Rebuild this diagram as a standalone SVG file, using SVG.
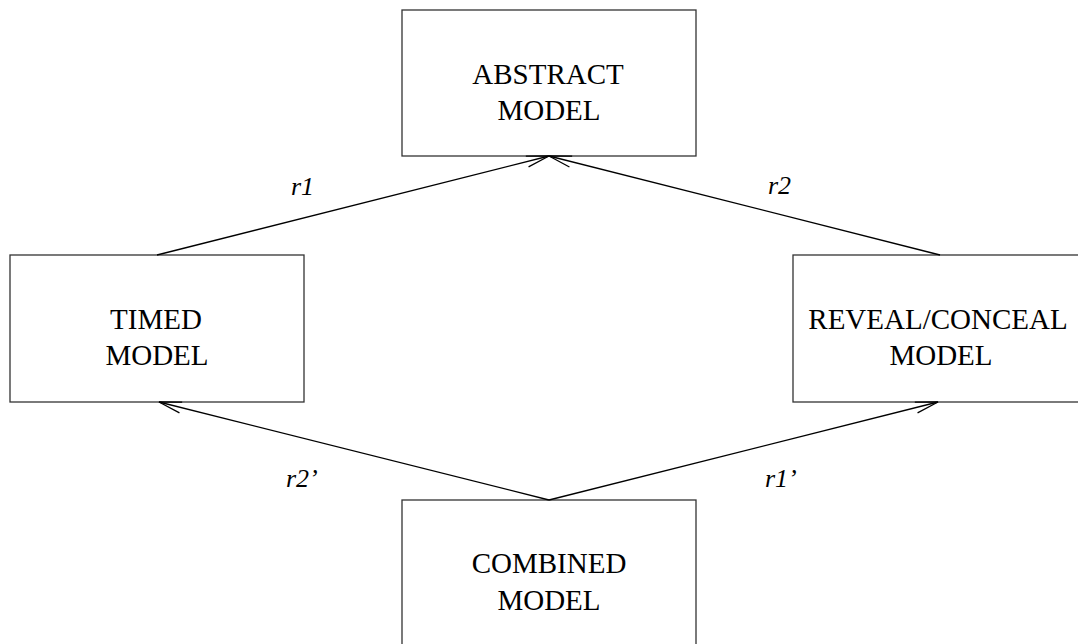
<svg xmlns="http://www.w3.org/2000/svg" width="1078" height="644" viewBox="0 0 1078 644">
  <style>
    .box { fill: #ffffff; stroke: #333333; stroke-width: 1.3; }
    .name { font-family: "Liberation Serif", "Times New Roman", serif; font-size: 29px; fill: #000000; text-anchor: middle; }
    .lbl { font-family: "Liberation Serif", "Times New Roman", serif; font-size: 26px; font-style: italic; fill: #000000; }
    .edge { fill: none; stroke: #000000; stroke-width: 1.3; marker-end: url(#vee); }
  </style>
  <defs>
    <marker id="vee" markerUnits="userSpaceOnUse" markerWidth="30" markerHeight="20" viewBox="-25 -10 30 20" refX="0" refY="0" orient="auto">
      <path d="M -22.5 -5.6 L 0 0 L -22.5 5.6" fill="none" stroke="#000000" stroke-width="1.3"/>
    </marker>
  </defs>
  <rect width="1078" height="644" fill="#ffffff"/>

  <g id="abstract">
    <rect class="box" x="402" y="10" width="294" height="146"/>
    <text class="name" x="548" y="83.5">ABSTRACT</text>
    <text class="name" x="549" y="120">MODEL</text>
  </g>

  <g id="timed">
    <rect class="box" x="10" y="255" width="294" height="147"/>
    <text class="name" x="156" y="328.5">TIMED</text>
    <text class="name" x="157" y="365">MODEL</text>
  </g>

  <g id="reveal-conceal">
    <rect class="box" x="793" y="255" width="294" height="147"/>
    <text class="name" x="938" y="328.5">REVEAL/CONCEAL</text>
    <text class="name" x="941" y="365">MODEL</text>
  </g>

  <g id="combined">
    <rect class="box" x="402" y="500" width="294" height="160"/>
    <text class="name" x="549" y="573">COMBINED</text>
    <text class="name" x="549" y="609.5">MODEL</text>
  </g>

  <g id="connectors">
    <line class="edge" x1="157" y1="255" x2="549" y2="156"/>
    <line class="edge" x1="940" y1="255" x2="549" y2="156"/>
    <line class="edge" x1="549" y1="500" x2="159" y2="402"/>
    <line class="edge" x1="549" y1="500" x2="938" y2="402"/>
    <text class="lbl" x="291" y="195">r1</text>
    <text class="lbl" x="768" y="194">r2</text>
    <text class="lbl" x="286" y="487">r2’</text>
    <text class="lbl" x="765" y="487">r1’</text>
  </g>
</svg>
